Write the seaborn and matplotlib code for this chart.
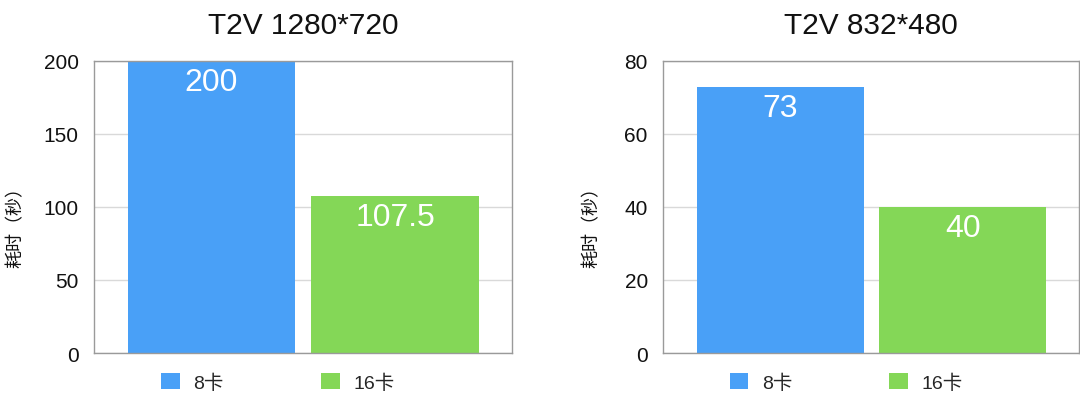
import matplotlib
matplotlib.use('Agg')
import matplotlib.pyplot as plt
import seaborn as sns
import pandas as pd

# data
titles = ['T2V 1280*720', 'T2V 832*480']
cards = ['8卡', '16卡']
times_1280 = [200, 107.5]
times_832 = [73, 40]
y_limits = [200, 80]
y_steps = [50, 20]

colors = ['#49a0f7', '#84d757']

sns.set_theme(style='whitegrid')
plt.rcParams['font.family'] = ['Liberation Sans', 'Noto Sans CJK SC', 'DejaVu Sans']
plt.rcParams['axes.unicode_minus'] = False

fig = plt.figure(figsize=(10.8, 4.02), dpi=100)
ax_left = fig.add_axes([0.087, 0.1194, 0.387, 0.7264])
ax_right = fig.add_axes([0.614, 0.1194, 0.3852, 0.7264])
label_x = [-0.167, -0.151]

for ax, title, values, ymax, step, lx in zip([ax_left, ax_right], titles,
                                              [times_1280, times_832], y_limits,
                                              y_steps, label_x):
    df = pd.DataFrame({'卡数': cards, '耗时': values})
    sns.barplot(data=df, x='卡数', y='耗时', hue='卡数', palette=colors,
                width=0.913, linewidth=0, saturation=1, ax=ax, legend=True)

    ax.set_xlim(-0.64, 1.636)
    ax.set_ylim(0, ymax)
    ax.set_yticks(range(0, ymax + 1, step))
    ax.tick_params(axis='y', labelsize=15, length=0, pad=11, colors='#111111')
    ax.set_xticks([])
    ax.set_xlabel('')
    ax.set_ylabel('耗时（秒）', fontsize=13, color='#111111')
    ax.yaxis.set_label_coords(lx, 0.45)
    ax.set_title(title, fontsize=21.5, pad=20, color='#111111')

    ax.grid(axis='y', color='#d9d9d9', linewidth=1)
    ax.grid(axis='x', visible=False)
    ax.set_axisbelow(True)
    for side in ['left', 'bottom', 'right', 'top']:
        ax.spines[side].set_visible(True)
        ax.spines[side].set_color('#9a9a9a')
        ax.spines[side].set_linewidth(1)

    # value labels inside the top of each bar
    for container in ax.containers:
        labels = ['{:g}'.format(v) for v in container.datavalues]
        ax.bar_label(container, labels=labels, label_type='edge', padding=-26,
                     color='white', fontsize=23)

    sns.move_legend(ax, 'center', bbox_to_anchor=(0.44, -0.1), ncol=2,
                    frameon=False, title=None, fontsize=14,
                    handlelength=0.95, handleheight=0.95, handletextpad=0.7,
                    columnspacing=5.0, borderaxespad=0)

fig.savefig('out.png', dpi=100, facecolor='white')
